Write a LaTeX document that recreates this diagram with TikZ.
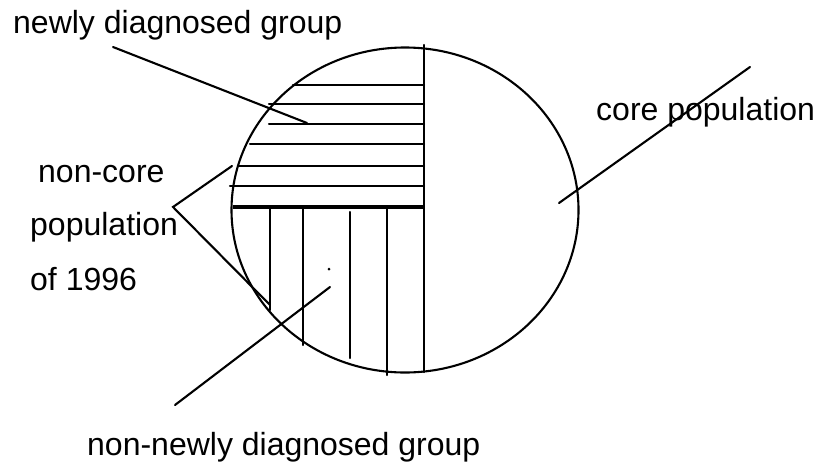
\documentclass[tikz,border=0pt]{standalone}
\usepackage{fontspec}
\setmainfont{Liberation Sans}
\begin{document}
\begin{tikzpicture}[x=1pt,y=-1pt,
  ln/.style={line width=2.1pt,line cap=round},
  lbl/.style={anchor=base west,inner sep=0pt,font=\fontsize{32}{36}\selectfont}]
\useasboundingbox (0,0) rectangle (816,466);
% circle
\draw[ln] (405,210) ellipse [x radius=173.5pt, y radius=162.5pt];
% dividing vertical line
\coordinate (vt) at (424,45);
\coordinate (vb) at (424,372);
\draw[ln] (vt) -- (vb);
% horizontal hatching (newly diagnosed group)
\foreach \y/\x in {85/293,104/269,124/269,144/250,166/238,186/230}{
  \draw[ln] (\x,\y) -- (424,\y);
}
\draw[line width=3.6pt] (233,207) -- (424,207);
% vertical hatching (non-newly diagnosed group)
\foreach \x/\a/\b in {270/207/310,303/207/345,350/212/358,387/207/375}{
  \draw[ln] (\x,\a) -- (\x,\b);
}
\fill (329,269) circle (1.5pt);
% labels
\node[lbl] (tnew) at (13,33) {newly diagnosed group};
\node[lbl] (tcore) at (596,120) {core population};
\node[lbl] (tnc1) at (38,182) {non-core};
\node[lbl] (tnc2) at (30,235) {population};
\node[lbl] (tnc3) at (30,290) {of 1996};
\node[lbl] (tnon) at (87,455) {non-newly diagnosed group};
% leader lines
\coordinate (n1) at (113,47);  \coordinate (n2) at (307,123);
\coordinate (c1) at (559,203); \coordinate (c2) at (750,67);
\coordinate (k1) at (232,166); \coordinate (k2) at (173,207); \coordinate (k3) at (270,305);
\coordinate (m1) at (175,405); \coordinate (m2) at (330,287);
\draw[ln] (n1) -- (n2);
\draw[ln] (c1) -- (c2);
\draw[ln,line join=miter] (k1) -- (k2) -- (k3);
\draw[ln] (m1) -- (m2);
\end{tikzpicture}
\end{document}
